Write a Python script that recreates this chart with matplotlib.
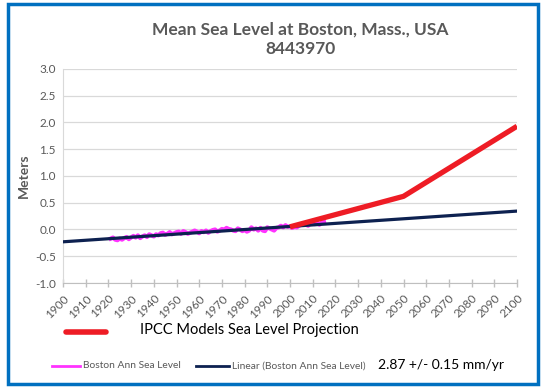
import numpy as np
import matplotlib
matplotlib.use('Agg')
import matplotlib.pyplot as plt
from matplotlib.patches import Rectangle
from matplotlib.lines import Line2D

plt.rcParams['font.family'] = ['Lato', 'DejaVu Sans']

# annual mean sea level at Boston (m)
years = list(range(1921, 2016))
sea_level = [-0.17, -0.15, -0.19, -0.20, -0.17, -0.19, -0.16, -0.14, -0.18, -0.15,
             -0.12, -0.15, -0.11, -0.16, -0.13, -0.11, -0.14, -0.09, -0.11, -0.13,
             -0.09, -0.11, -0.07, -0.06, -0.10, -0.08, -0.05, -0.09, -0.07, -0.05,
             -0.04, -0.08, -0.03, -0.05, -0.08, -0.06, -0.04, -0.02, -0.04, -0.07,
             -0.03, -0.05, -0.02, -0.06, -0.03, -0.01, 0.00, -0.04, -0.02, 0.01,
             -0.01, 0.03, 0.01, 0.00, -0.02, -0.03, 0.02, 0.00, -0.03, -0.01,
             -0.04, -0.02, 0.04, 0.00, 0.02, -0.02, 0.03, -0.02, -0.03, 0.04,
             0.02, 0.00, -0.02, 0.03, 0.04, 0.07, 0.04, 0.08, 0.05, 0.06,
             0.03, 0.05, 0.04, 0.07, 0.09, 0.11, 0.09, 0.07, 0.12, 0.15,
             0.10, 0.12, 0.09, 0.13, 0.14]

# linear trend (2.87 mm/yr)
trend_years = [1900, 2100]
trend_vals = [-0.23, 0.344]

# IPCC projection
ipcc_years = [2000, 2050, 2100]
ipcc_vals = [0.05, 0.62, 1.93]

xticks = list(range(1900, 2101, 10))
yticks = [-1.0, -0.5, 0.0, 0.5, 1.0, 1.5, 2.0, 2.5, 3.0]

gray = '#595959'
magenta = '#FF33FF'
navy = '#0D2150'
red = '#EE1C25'

fig = plt.figure(figsize=(5.46, 3.88), dpi=100)
ax = fig.add_axes([63 / 546, 1 - 283 / 388, 454 / 546, 214 / 388])

ax.plot(years, sea_level, color=magenta, lw=3, zorder=2)
ax.plot(trend_years, trend_vals, color=navy, lw=2.3, zorder=3)
ax.plot(ipcc_years, ipcc_vals, color=red, lw=3.8, solid_capstyle='butt', zorder=4)

ax.set_xlim(1900, 2100)
ax.set_ylim(-1.0, 3.0)
ax.set_xticks(xticks)
ax.set_xticklabels([str(x) for x in xticks], rotation=45, ha='right',
                   rotation_mode='anchor', fontsize=8.5, color=gray)
ax.set_yticks(yticks)
ax.set_yticklabels(['%.1f' % y for y in yticks], fontsize=8.5, color=gray)
ax.tick_params(axis='y', length=0, pad=5)
ax.tick_params(axis='x', length=6, width=1, color='#BFBFBF', direction='inout', pad=4)
ax.grid(axis='y', color='#D9D9D9', lw=0.9)
ax.set_axisbelow(True)
for s in ['top', 'right']:
    ax.spines[s].set_visible(False)
ax.spines['left'].set_color('#D9D9D9')
ax.spines['bottom'].set_color('#BFBFBF')
ax.set_ylabel('Meters', fontsize=10, color=gray, fontweight='bold', labelpad=4)

fig.text(300 / 546, 1 - 39 / 388, 'Mean Sea Level at Boston, Mass., USA\n8443970',
         ha='center', va='center', fontsize=12.5, fontweight='bold', color=gray,
         linespacing=1.3)

# legend rows
fig.add_artist(Line2D([66 / 546, 106 / 546], [1 - 332 / 388] * 2, color=red, lw=4,
                      solid_capstyle='round'))
fig.text(140 / 546, 1 - 330 / 388, 'IPCC Models Sea Level Projection',
         fontsize=10.5, color='black', va='center')

fig.add_artist(Line2D([52 / 546, 80 / 546], [1 - 366 / 388] * 2, color=magenta, lw=2))
fig.text(83 / 546, 1 - 366 / 388, 'Boston Ann Sea Level', fontsize=7.4, color=gray, va='center')
fig.add_artist(Line2D([196 / 546, 229 / 546], [1 - 366 / 388] * 2, color=navy, lw=2))
fig.text(232 / 546, 1 - 366 / 388, 'Linear (Boston Ann Sea Level)', fontsize=7.4,
         color=gray, va='center')
fig.text(378 / 546, 1 - 365 / 388, '2.87 +/- 0.15 mm/yr', fontsize=10,
         color='black', va='center')

# blue frame
fig.add_artist(Rectangle((8 / 546, 4 / 388), 530 / 546, 380 / 388,
                         transform=fig.transFigure, fill=False,
                         edgecolor='#0070C0', lw=2.5))

fig.savefig('out.png', dpi=100)
